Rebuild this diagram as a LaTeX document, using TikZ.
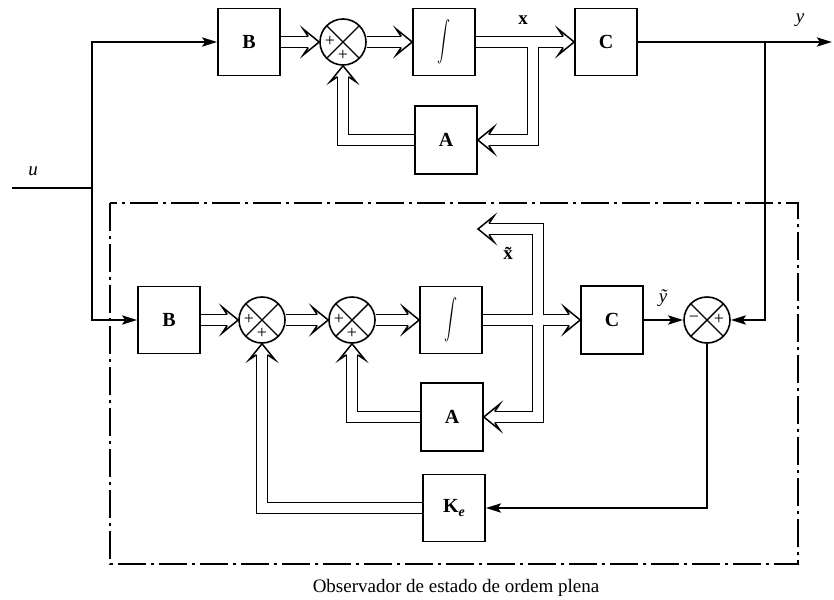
\documentclass[tikz,border=0pt]{standalone}
\usepackage{fontspec}
\setmainfont{Liberation Serif}
\usetikzlibrary{arrows.meta,calc}
\pgfdeclarelayer{bg}
\pgfsetlayers{bg,main}
\tikzset{
  blk/.style={draw, line width=1.6pt, minimum width=62pt, minimum height=67pt, inner sep=0pt,
              font=\fontsize{20}{20}\selectfont\bfseries},
  sumc/.style={draw, circle, line width=1.6pt, minimum size=46pt, inner sep=0pt,
     path picture={\draw[line width=1.4pt]
        (path picture bounding box.north west) -- (path picture bounding box.south east)
        (path picture bounding box.north east) -- (path picture bounding box.south west);}},
  sgn/.style={inner sep=0pt, font=\fontsize{18}{18}\selectfont},
  lbl/.style={inner sep=0pt, font=\fontsize{19}{19}\selectfont},
  sig/.style={line width=2.7pt, -{Stealth[length=15pt,width=9pt,inset=3pt]}},
  sigline/.style={line width=2.7pt},
  vouter/.style={draw=black, line width=12.5pt, line join=miter, line cap=butt},
  vinner/.style={draw=white, line width=9.5pt, line join=miter, line cap=butt},
  dashdotted box/.style={line width=1.3pt, dash pattern=on 28pt off 5pt on 3pt off 5pt},
  vhead/.pic={
    \fill[white] (0,0) -- (-16,-13) -- (-11,-6.25) -- (-11,6.25) -- (-16,13) -- cycle;
    \draw[line width=1.5pt, line join=miter] (-11,-5.5) -- (-16,-13) -- (0,0) -- (-16,13) -- (-11,5.5);
  }
}
\newcommand\myshafts[1]{%
  % top
  \draw[#1] (Bt.east) -- ($(S1t.west)+(-11,0)$);
  \draw[#1] (S1t.east) -- ($(It.west)+(-11,0)$);
  \draw[#1] (It.east) -- ($(Ct.west)+(-11,0)$);
  \draw[#1] (jt) |- ($(At.east)+(11,0)$);
  \draw[#1] (At.west) -| ($(S1t.south)+(0,11)$);
  % bottom
  \draw[#1] (Bb.east) -- ($(S1b.west)+(-11,0)$);
  \draw[#1] (S1b.east) -- ($(S2b.west)+(-11,0)$);
  \draw[#1] (S2b.east) -- ($(Ib.west)+(-11,0)$);
  \draw[#1] (Ib.east) -- ($(Cb.west)+(-11,0)$);
  \draw[#1] (jb) |- ($(xtip)+(11,0)$);
  \draw[#1] (jb) |- ($(Ab.east)+(11,0)$);
  \draw[#1] (Ab.west) -| ($(S2b.south)+(0,11)$);
  \draw[#1] (Ke.west) -| ($(S1b.south)+(0,11)$);
}
\newcommand\intsign{\scalebox{1.3}[2.0]{$\displaystyle\int$}}
\begin{document}
\begin{tikzpicture}[x=1pt,y=-1pt]
\useasboundingbox (0,0) rectangle (834,599);

% ---------- plant ----------
\node[blk] (Bt) at (249,42) {B};
\node[sumc] (S1t) at (343,42) {};
\node[blk] (It) at (444,42) {\intsign};
\node[blk] (Ct) at (606,42) {C};
\node[blk, minimum height=68pt] (At) at (446,140) {A};
\coordinate (jt) at (533,42);

% ---------- observer ----------
\node[blk] (Bb) at (169,320) {B};
\node[sumc] (S1b) at (262,320) {};
\node[sumc] (S2b) at (352,320) {};
\node[blk] (Ib) at (451,320) {\intsign};
\node[blk, minimum height=68pt] (Cb) at (612,320) {C};
\node[sumc] (S3) at (707,320) {};
\node[blk, minimum height=68pt] (Ab) at (452,417) {A};
\node[blk] (Ke) at (454,508) {K\raisebox{-0.35ex}{\fontsize{14}{14}\selectfont\itshape e}};
\coordinate (jb) at (538,320);
\coordinate (xtip) at (478,229);

% signs
\node[sgn] (p1a) at ($(S1t)+(-13,-1)$) {+};
\node[sgn] (p1b) at ($(S1t)+(0,13)$) {+};
\node[sgn] (p2a) at ($(S1b)+(-13,-1)$) {+};
\node[sgn] (p2b) at ($(S1b)+(0,13)$) {+};
\node[sgn] (p3a) at ($(S2b)+(-13,-1)$) {+};
\node[sgn] (p3b) at ($(S2b)+(0,13)$) {+};
\node[sgn] (m4a) at ($(S3)+(-13,-1)$) {\textminus};
\node[sgn] (p4b) at ($(S3)+(12,-1)$) {+};

% vector (double-line) connectors
\begin{pgfonlayer}{bg}
\fill[white] (0,0) rectangle (834,599);
\myshafts{vouter}
\myshafts{vinner}
\pic at (S1t.west) {vhead};
\pic at (It.west) {vhead};
\pic at (Ct.west) {vhead};
\pic[rotate=180] at (At.east) {vhead};
\pic[rotate=90] at (S1t.south) {vhead};
\pic at (S1b.west) {vhead};
\pic at (S2b.west) {vhead};
\pic at (Ib.west) {vhead};
\pic at (Cb.west) {vhead};
\pic[rotate=180] at (xtip) {vhead};
\pic[rotate=180] at (Ab.east) {vhead};
\pic[rotate=90] at (S2b.south) {vhead};
\pic[rotate=90] at (S1b.south) {vhead};
\end{pgfonlayer}

% scalar connectors
\coordinate (u) at (12,188);
\coordinate (uj) at (92,188);
\coordinate (yend) at (832,42);
\coordinate (ybr) at (765,42);
\draw[sigline] (u) -- (uj);
\draw[sig] (uj) |- (Bt.west);
\draw[sig] (uj) |- (Bb.west);
\draw[sig] (Ct.east) -- (yend);
\draw[sig] (ybr) |- (S3.east);
\draw[sig] (Cb.east) -- (S3.west);
\draw[sig] (S3.south) |- (Ke.east);

% labels
\node[lbl, font=\fontsize{19}{19}\selectfont\itshape] (ulbl) at (33,171) {u};
\node[lbl, font=\fontsize{19}{19}\selectfont\itshape] (ylbl) at (800,20) {y};
\node[lbl, font=\fontsize{19}{19}\selectfont\bfseries] (xlbl) at (523,20) {x};
\node[lbl, font=\fontsize{19}{19}\selectfont\bfseries] (xtlbl) at (508,253) {\~x};
\node[lbl, font=\fontsize{19}{19}\selectfont\itshape] (ytlbl) at (663,298) {\~y};

% observer frame
\draw[dashdotted box] (110,203) rectangle (798,564);
\node[lbl] (cap) at (456,588) {Observador de estado de ordem plena};
\end{tikzpicture}
\end{document}
